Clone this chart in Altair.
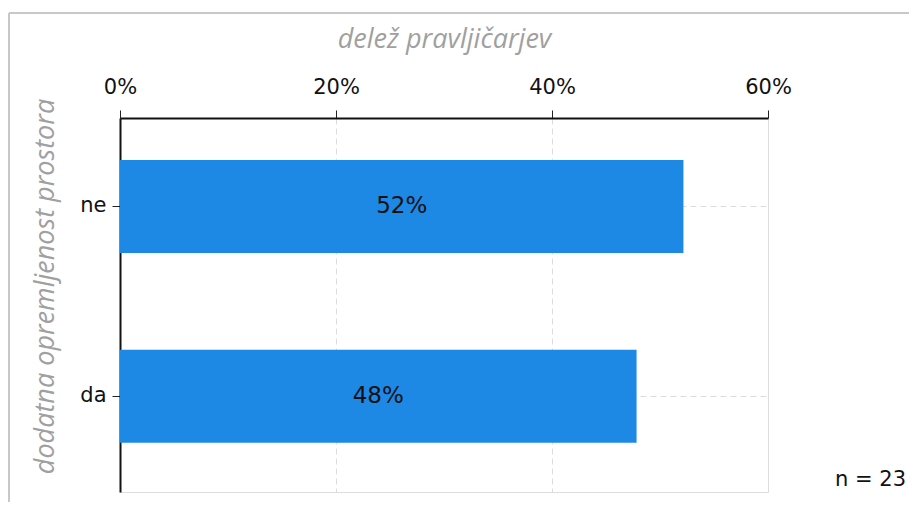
import altair as alt
import pandas as pd

categories = ["ne", "da"]
shares = [52.17, 47.83]
labels = ["52%", "48%"]
n_text = "n = 23"

df = pd.DataFrame({"cat": categories, "share": shares, "label": labels})

W, H = 648, 374

base = alt.Chart(df)

bars = base.mark_bar(color="#1e88e5").encode(
    x=alt.X(
        "share:Q",
        scale=alt.Scale(domain=[0, 60], nice=False),
        axis=alt.Axis(
            orient="top",
            values=[0, 20, 40, 60],
            labelExpr="datum.value + '%'",
            labelFlush=False,
            title="delež pravljičarjev",
            titleFont="Open Sans",
            titleFontStyle="italic",
            titleFontWeight="normal",
            titleFontSize=27,
            titleColor="#a0a0a0",
            titlePadding=23,
            labelFont="DejaVu Sans",
            labelFontSize=21,
            labelColor="#111",
            labelPadding=13,
            tickSize=8,
            tickColor="#222",
            domainColor="#111",
            domainWidth=2,
            grid=True,
            gridColor="#dcdcdc",
            gridDash=[6, 4],
        ),
    ),
    y=alt.Y(
        "cat:N",
        sort=categories,
        scale=alt.Scale(paddingInner=0.51, paddingOuter=0.24, align=0.46),
        axis=alt.Axis(
            title="dodatna opremljenost prostora",
            titleFont="Open Sans",
            titleFontStyle="italic",
            titleFontWeight="normal",
            titleFontSize=27,
            titleColor="#a0a0a0",
            titlePadding=20,
            titleY=168,
            labelFont="DejaVu Sans",
            labelFontSize=21,
            labelColor="#111",
            labelPadding=6,
            tickSize=8,
            tickColor="#222",
            domainColor="#111",
            domainWidth=2,
            grid=True,
            bandPosition=0.5,
            gridColor="#dcdcdc",
            gridDash=[6, 4],
        ),
    ),
)

text = base.mark_text(font="DejaVu Sans", fontSize=23, color="#111", align="center", baseline="middle").encode(
    x=alt.X("mid:Q"),
    y=alt.Y("cat:N", sort=categories),
    text="label:N",
).transform_calculate(mid="datum.share / 2")

ntext = alt.Chart(pd.DataFrame({"t": [n_text]})).mark_text(
    font="DejaVu Sans", fontSize=21, color="#111", align="right", baseline="middle"
).encode(x=alt.value(786), y=alt.value(362), text="t:N")

frame_left = alt.Chart(pd.DataFrame({"a": [0]})).mark_rule(color="#c8c8c8", strokeWidth=2).encode(
    x=alt.value(-111), y=alt.value(-105), y2=alt.value(390)
)
frame_top = alt.Chart(pd.DataFrame({"a": [0]})).mark_rule(color="#c8c8c8", strokeWidth=2).encode(
    x=alt.value(-111), x2=alt.value(800), y=alt.value(-105)
)

chart = (
    alt.layer(frame_left, frame_top, bars, text, ntext)
    .properties(
        width=W,
        height=H,
        autosize=alt.AutoSizeParams(type="none"),
        padding={"left": 112, "top": 110, "right": 141, "bottom": 10},
    )
    .configure_view(fill="#f6f6f6", stroke="#dcdcdc", strokeWidth=1)
    .configure(background="white")
)

chart.save("out.html", embed_options={"renderer": "svg", "actions": False})
